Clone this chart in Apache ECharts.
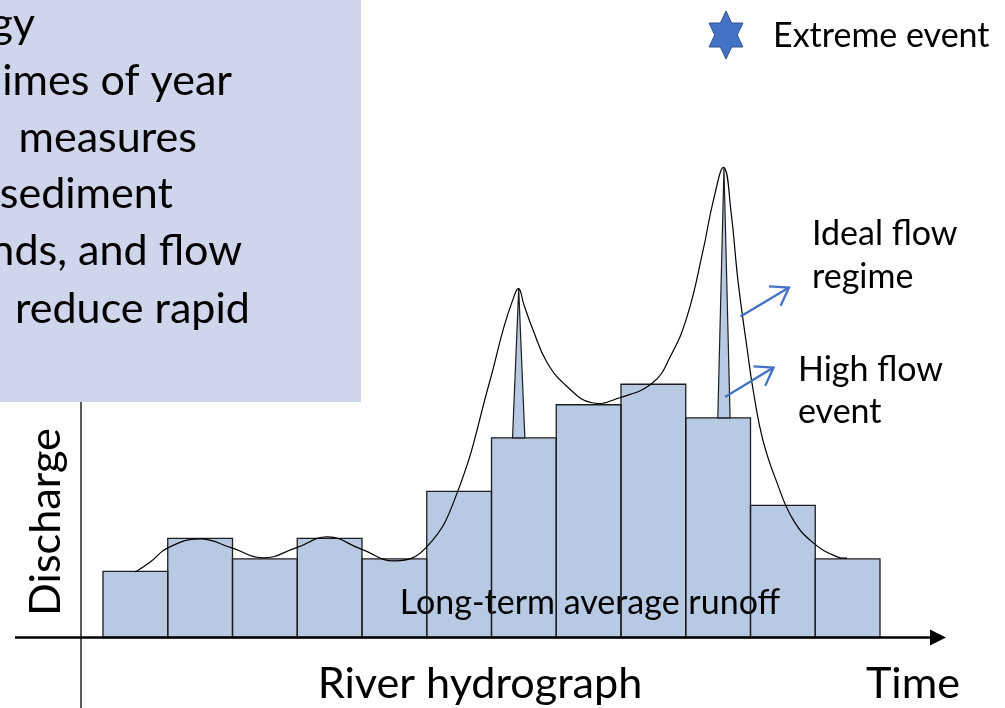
<!DOCTYPE html>
<html><head><meta charset="utf-8">
<script src="https://cdn.jsdelivr.net/npm/echarts@6/dist/echarts.min.js"></script>
<style>html,body{margin:0;padding:0;background:#fff}#c{width:1005px;height:708px}</style>
</head><body><div id="c"></div>
<script>
// ---- data ----
const periods = [0, 1, 2, 3, 4, 5, 6, 7, 8, 9, 10, 11];
const avgRunoff = [13.2, 19.8, 15.7, 19.8, 15.7, 29.2, 39.9, 46.5, 50.6, 43.9, 26.4, 15.7];
const eventX = [5.92, 9.09];
const eventBase = [39.9, 43.9];
const eventPeak = [69.7, 93.9];
const regimeX = [0.0, 0.23, 0.5, 1.0, 1.49, 1.97, 2.48, 2.97, 3.48, 4.01, 4.5, 4.97, 5.48, 5.68, 5.83, 5.92, 6.0, 6.14, 6.36, 6.67, 7.05, 7.48, 7.99, 8.26, 8.52, 8.77, 8.93, 9.09, 9.2, 9.31, 9.45, 9.54, 9.69, 9.91, 10.16, 10.47, 10.84, 10.99];
const regimeY = [13.1, 15.1, 17.9, 19.7, 17.9, 15.9, 17.9, 20.1, 17.7, 15.3, 18.1, 28.9, 51.5, 61.5, 67.5, 69.7, 66.5, 61.5, 54.9, 50.1, 46.9, 47.9, 50.9, 56.1, 64.1, 77.5, 87.5, 93.9, 85.0, 70.9, 57.5, 49.5, 39.5, 30.9, 23.5, 18.9, 16.1, 15.9];
const boxLines = ['gy', 'imes of year', ' measures', 'sediment', 'nds, and flow', ' reduce rapid'];
const xAxisTitle = 'River hydrograph';
const xAxisName = 'Time';
const yAxisName = 'Discharge';
const avgLabel = 'Long-term average runoff';
const legendLabel = 'Extreme event';
const idealLabel = ['Ideal flow', 'regime'];
const highLabel = ['High flow', 'event'];

// ---- text fitting helpers ----
const FONT = 'Lato, "Open Sans", sans-serif';
const mctx = document.createElement('canvas').getContext('2d');
function fitSize(text, w) { mctx.font = '100px ' + FONT; return 100 * w / mctx.measureText(text).width; }
mctx.font = '100px ' + FONT; mctx.textBaseline = 'middle';
const midOff100 = mctx.measureText('x').actualBoundingBoxDescent || 33;
function off(s) { return s * midOff100 / 100; }
function txt(text, x, baseline, size, align, z) {
  return {
    type: 'text', x: x, y: baseline - off(size), z: z || 100,
    style: { text: text, font: size.toFixed(1) + 'px ' + FONT, fill: '#000', textAlign: align || 'left', textVerticalAlign: 'middle' }
  };
}

const boxSize = (fitSize('imes of year', 230) + fitSize('reduce rapid', 235)) / 2;
const boxRight = [35, 232, 197, 173, 242, 250];
const boxBase = [38, 95, 152, 208, 265, 323];
const labSize = (fitSize(avgLabel, 384) + fitSize(legendLabel, 213) + fitSize('Ideal flow', 146)) / 3;
const bigSize = (fitSize(xAxisTitle, 330) + fitSize(yAxisName, 185)) / 2;

const graphics = [];
graphics.push({ type: 'rect', shape: { x: 0, y: 0, width: 361, height: 402 }, style: { fill: '#CFD5EA' }, z: 50 });
boxLines.forEach((t, i) => graphics.push(txt(t, boxRight[i], boxBase[i], boxSize, 'right')));
// axes lines
graphics.push({ type: 'line', shape: { x1: 81, y1: 402, x2: 81, y2: 708 }, style: { stroke: '#000', lineWidth: 1.3 }, z: 40 });
graphics.push({ type: 'line', shape: { x1: 15, y1: 637.5, x2: 934, y2: 637.5 }, style: { stroke: '#000', lineWidth: 2.5 }, z: 40 });
graphics.push({ type: 'polygon', shape: { points: [[930, 629.5], [946, 637.5], [930, 645.5]] }, style: { fill: '#000' }, z: 40 });
// texts
graphics.push(txt(xAxisTitle, 480, 698, bigSize, 'center'));
graphics.push(txt(xAxisName, 913, 698, bigSize, 'center'));
const dis = txt(yAxisName, 60 - off(bigSize), 0, bigSize, 'center');
dis.y = 522; dis.rotation = Math.PI / 2;
graphics.push(dis);
graphics.push(txt(avgLabel, 590, 614, labSize, 'center', 5));
graphics.push(txt(legendLabel, 773, 47, labSize, 'left'));
graphics.push(txt(idealLabel[0], 812, 245, labSize, 'left'));
graphics.push(txt(idealLabel[1], 812, 288, labSize, 'left'));
graphics.push(txt(highLabel[0], 798, 381, labSize, 'left'));
graphics.push(txt(highLabel[1], 798, 423, labSize, 'left'));
// hexagram legend symbol
const star = [];
for (let i = 0; i < 12; i++) {
  const a = (-90 + 30 * i) * Math.PI / 180, r = i % 2 === 0 ? 1 : 1 / Math.sqrt(3);
  star.push([726 + Math.cos(a) * r * 19.5, 35 + Math.sin(a) * r * 24]);
}
graphics.push({ type: 'polygon', shape: { points: star }, style: { fill: '#4472C4', stroke: '#2F528F', lineWidth: 1 }, z: 60 });
// annotation arrows
function arrow(x1, y1, x2, y2) {
  const ang = Math.atan2(y2 - y1, x2 - x1), L = 20, sp = 0.6;
  return [
    { type: 'line', shape: { x1: x1, y1: y1, x2: x2, y2: y2 }, style: { stroke: '#4472C4', lineWidth: 2.3 }, z: 60 },
    { type: 'polyline', shape: { points: [[x2 - L * Math.cos(ang - sp), y2 - L * Math.sin(ang - sp)], [x2, y2], [x2 - L * Math.cos(ang + sp), y2 - L * Math.sin(ang + sp)]] }, style: { stroke: '#4472C4', lineWidth: 2.3, fill: null }, z: 60 }
  ];
}
graphics.push(...arrow(740.5, 316.5, 789, 287.5));
graphics.push(...arrow(725, 397, 773.5, 367.5));

function barRect(api, fill, stroke) {
  const p0 = api.coord([api.value(0) - 0.5, api.value(1)]);
  const p1 = api.coord([api.value(0) + 0.5, 0]);
  return { type: 'rect', shape: { x: p0[0], y: p0[1], width: p1[0] - p0[0], height: p1[1] - p0[1] },
    style: { fill: fill, stroke: stroke, lineWidth: 1.3 } };
}
const barData = periods.map((p, i) => [p, avgRunoff[i]]);

const chart = echarts.init(document.getElementById('c'), null, { renderer: 'canvas' });
chart.setOption({
  animation: false,
  backgroundColor: '#fff',
  grid: { left: 103, right: 125, top: 137, bottom: 70.5 },
  xAxis: { type: 'value', min: -0.5, max: 11.5, show: false },
  yAxis: { type: 'value', min: 0, max: 100, show: false },
  series: [
    { type: 'custom', z: 2, data: barData, renderItem: (p, api) => barRect(api, '#B7C9E3', null) },
    { type: 'custom', z: 6, data: barData, renderItem: (p, api) => barRect(api, null, '#1e1e1e') },
    {
      type: 'custom', z: 7,
      data: eventX.map((x, i) => [x, eventBase[i], eventPeak[i]]),
      renderItem: function (params, api) {
        const x = api.value(0), b = api.value(1), t = api.value(2);
        return { type: 'polygon', shape: { points: [api.coord([x - 0.095, b]), api.coord([x + 0.095, b]), api.coord([x, t])] },
          style: { fill: '#B7C9E3', stroke: '#1e1e1e', lineWidth: 1.2 } };
      }
    },
    {
      type: 'custom', z: 8,
      data: regimeX.map((x, i) => [x, regimeY[i]]),
      renderItem: function (params, api) {
        if (params.dataIndex !== 0) return null;
        const pts = regimeX.map((x, i) => api.coord([x, regimeY[i]]));
        return { type: 'polyline', shape: { points: pts, smooth: 0.45 },
          style: { stroke: '#000', lineWidth: 1.2, fill: null } };
      }
    }
  ],
  graphic: graphics
});
</script>
</body></html>
